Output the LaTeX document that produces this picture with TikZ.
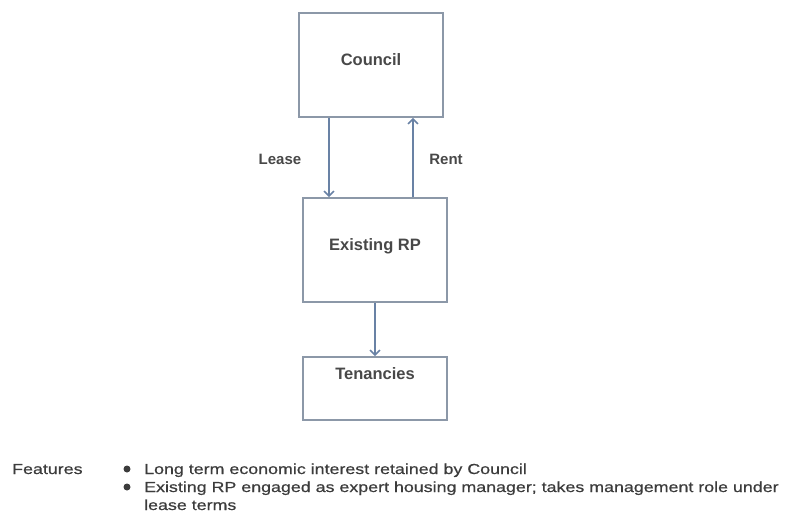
\documentclass[tikz,border=0pt]{standalone}
\usepackage{fontspec}
\setmainfont{Liberation Sans}
\newfontfamily\featfont[FakeStretch=1.23,FakeBold=0.6]{Liberation Sans}
\usetikzlibrary{arrows.meta}
\definecolor{boxc}{RGB}{140,152,168}
\definecolor{arrc}{RGB}{105,130,165}
\definecolor{txtc}{RGB}{72,72,72}
\definecolor{feattxt}{RGB}{60,60,60}
\tikzset{
  boxnode/.style={draw=boxc, line width=1.8pt, minimum width=144pt, inner sep=0pt,
    text=txtc, font=\fontsize{16.5}{18}\selectfont\bfseries},
  arr/.style={draw=arrc, line width=1.8pt, -{Straight Barb[length=5pt,width=10pt,line width=1.5pt]}},
  edgelab/.style={text=txtc, font=\fontsize{15}{17}\selectfont\bfseries, inner sep=0pt, anchor=base},
  feat/.style={text=feattxt, font=\featfont\fontsize{14.5}{17}\selectfont, inner sep=0pt, anchor=base west},
  bulletdot/.style={circle, fill=feattxt, inner sep=0pt, minimum size=7pt}
}
\begin{document}
\begin{tikzpicture}[x=1pt,y=-1pt]
\useasboundingbox (0,0) rectangle (786,515);
% boxes
\node[boxnode, minimum height=104pt, text height=6pt, text depth=6pt] (council) at (371,65) {Council};
\node[boxnode, minimum height=104pt, text height=6pt, text depth=6pt] (rp) at (375,250) {Existing RP};
\node[boxnode, minimum height=63pt, text height=6pt, text depth=25pt] (ten) at (375,388.5) {Tenancies};
% arrow columns
\coordinate (lx) at (329,0);
\coordinate (rx) at (413,0);
\draw[arr] (lx |- council.south) -- (lx |- rp.north);
\draw[arr] (rx |- rp.north) -- (rx |- council.south);
\draw[arr] (rp.south) -- (ten.north);
% edge labels
\node[edgelab] (lease) at (280,164) {Lease};
\node[edgelab] (rent) at (446,164) {Rent};
% features
\node[feat] (features) at (12,474) {Features};
\node[bulletdot] (b1) at (127,469) {};
\node[bulletdot] (b2) at (127,487) {};
\node[feat] (l1) at (144,474) {Long term economic interest retained by Council};
\node[feat] (l2) at (144,492) {Existing RP engaged as expert housing manager; takes management role under};
\node[feat] (l3) at (144,510) {lease terms};
\end{tikzpicture}
\end{document}
